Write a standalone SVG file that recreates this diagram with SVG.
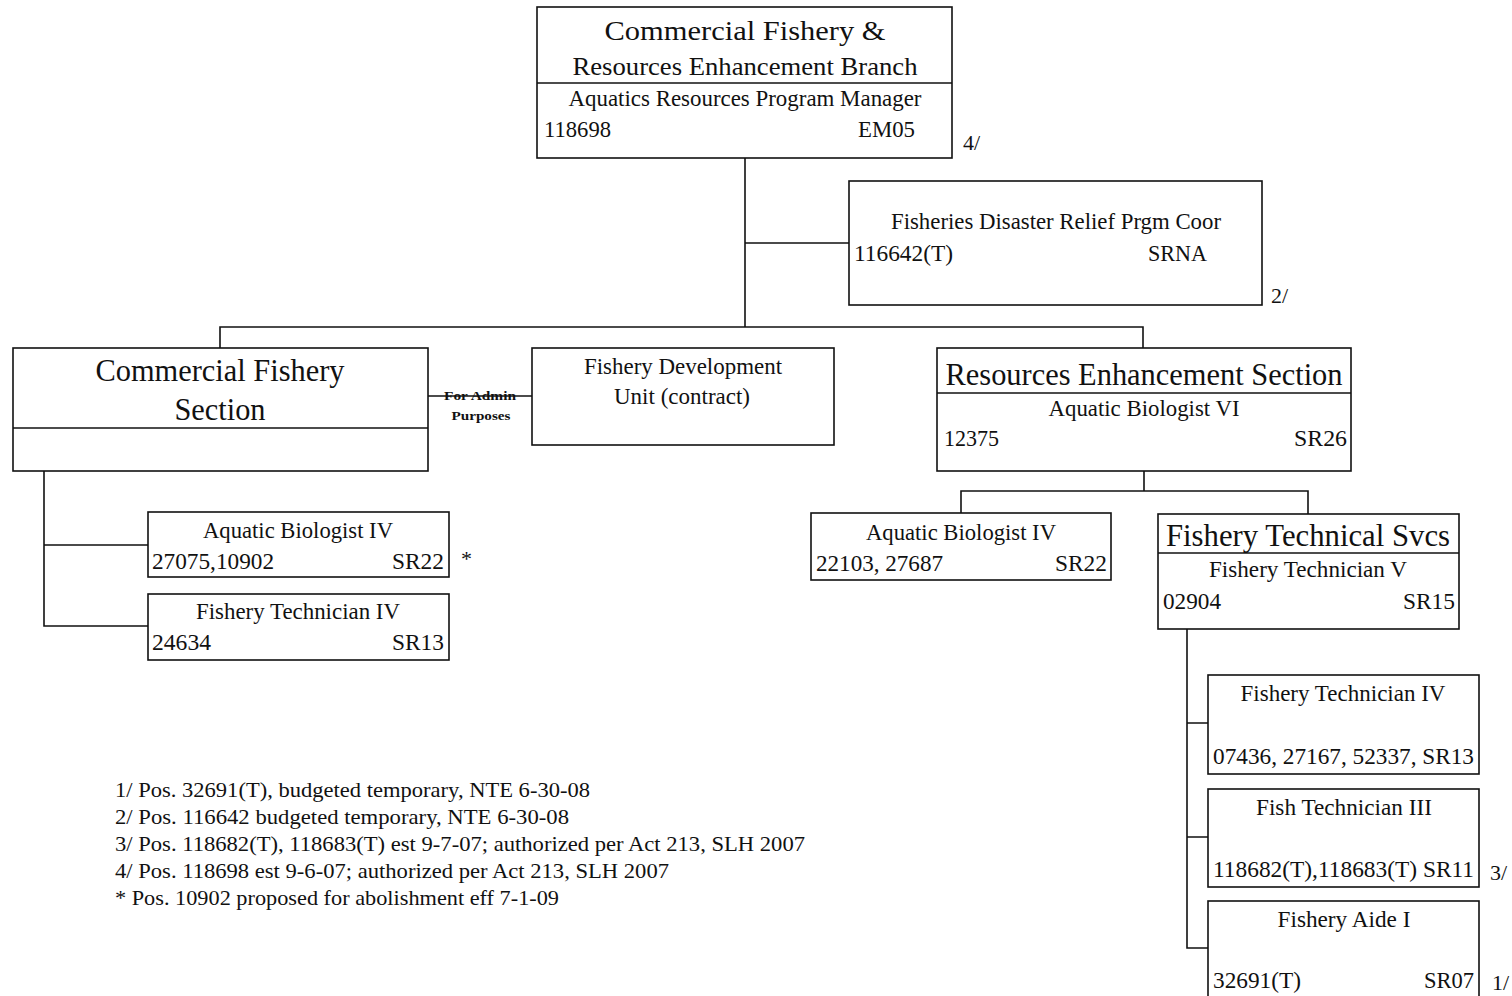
<svg xmlns="http://www.w3.org/2000/svg" width="1512" height="996" viewBox="0 0 1512 996">
<style>
.bx{fill:#fff;stroke:#111;stroke-width:1.6}
.dv{stroke:#111;stroke-width:1.4}
.cn{fill:none;stroke:#111;stroke-width:1.6}
text{font-family:"Liberation Serif","Times New Roman",serif;fill:#111}
.t{font-size:23px}
.h{font-size:31px}
.m{font-size:25px}
.c{text-anchor:middle}
.e{text-anchor:end}
.f{font-size:22px}
.s{font-size:13px;font-weight:bold}
</style>
<rect width="1512" height="996" fill="#fff"/>
<g id="connectors">
<path class="cn" d="M745 158V327M745 243H849M220 348V327H1143V348"/>
<path class="cn" d="M428 396H532"/>
<path class="cn" d="M44 471V626H148M44 545H148"/>
<path class="cn" d="M1144 471V491M961 513V491H1308V514"/>
<path class="cn" d="M1187 629V948H1208M1187 723H1208M1187 837H1208"/>
</g>
<g id="branch">
<rect class="bx" x="537" y="7" width="415" height="151"/>
<line class="dv" x1="537" y1="83" x2="952" y2="83"/>
<text class="h c" x="745" y="40" style="font-size:28px" textLength="281" lengthAdjust="spacingAndGlyphs">Commercial Fishery &amp;</text>
<text class="m c" x="745" y="75" textLength="345" lengthAdjust="spacingAndGlyphs">Resources Enhancement Branch</text>
<text class="t c" x="745" y="106" textLength="353" lengthAdjust="spacingAndGlyphs">Aquatics Resources Program Manager</text>
<text class="t" x="544" y="137" textLength="67" lengthAdjust="spacingAndGlyphs">118698</text>
<text class="t" x="858" y="137" textLength="57" lengthAdjust="spacingAndGlyphs">EM05</text>
<text class="f" x="963" y="150">4/</text>
</g>
<g id="disaster">
<rect class="bx" x="849" y="181" width="413" height="124"/>
<text class="t c" x="1056" y="229" textLength="330" lengthAdjust="spacingAndGlyphs">Fisheries Disaster Relief Prgm Coor</text>
<text class="t" x="854" y="261" textLength="99" lengthAdjust="spacingAndGlyphs">116642(T)</text>
<text class="t" x="1148" y="261" textLength="59" lengthAdjust="spacingAndGlyphs">SRNA</text>
<text class="f" x="1271" y="303">2/</text>
</g>
<g id="commercial-section">
<rect class="bx" x="13" y="348" width="415" height="123"/>
<line class="dv" x1="13" y1="428" x2="428" y2="428"/>
<text class="h c" x="220" y="381" textLength="249" lengthAdjust="spacingAndGlyphs">Commercial Fishery</text>
<text class="h c" x="220" y="420" textLength="91" lengthAdjust="spacingAndGlyphs">Section</text>
</g>
<g id="admin-label">
<text class="s c" x="480" y="400" textLength="72" lengthAdjust="spacingAndGlyphs">For Admin</text>
<text class="s c" x="481" y="420" textLength="59" lengthAdjust="spacingAndGlyphs">Purposes</text>
</g>
<g id="development-unit">
<rect class="bx" x="532" y="348" width="302" height="97"/>
<text class="t c" x="683" y="374" textLength="198" lengthAdjust="spacingAndGlyphs">Fishery Development</text>
<text class="t c" x="682" y="404" textLength="136" lengthAdjust="spacingAndGlyphs">Unit (contract)</text>
</g>
<g id="resources-section">
<rect class="bx" x="937" y="348" width="414" height="123"/>
<line class="dv" x1="937" y1="393" x2="1351" y2="393"/>
<text class="h c" x="1144" y="385" textLength="397" lengthAdjust="spacingAndGlyphs">Resources Enhancement Section</text>
<text class="t c" x="1144" y="416" textLength="191" lengthAdjust="spacingAndGlyphs">Aquatic Biologist VI</text>
<text class="t" x="944" y="446" textLength="55" lengthAdjust="spacingAndGlyphs">12375</text>
<text class="t" x="1294" y="446" textLength="53" lengthAdjust="spacingAndGlyphs">SR26</text>
</g>
<g id="left-biologist">
<rect class="bx" x="148" y="512" width="301" height="65"/>
<text class="t c" x="298" y="538" textLength="190" lengthAdjust="spacingAndGlyphs">Aquatic Biologist IV</text>
<text class="t" x="152" y="569" textLength="122" lengthAdjust="spacingAndGlyphs">27075,10902</text>
<text class="t" x="392" y="569" textLength="52" lengthAdjust="spacingAndGlyphs">SR22</text>
<text class="f" x="461" y="566">*</text>
</g>
<g id="left-technician">
<rect class="bx" x="148" y="594" width="301" height="66"/>
<text class="t c" x="298" y="619" textLength="204" lengthAdjust="spacingAndGlyphs">Fishery Technician IV</text>
<text class="t" x="152" y="650" textLength="59" lengthAdjust="spacingAndGlyphs">24634</text>
<text class="t" x="392" y="650" textLength="52" lengthAdjust="spacingAndGlyphs">SR13</text>
</g>
<g id="right-biologist">
<rect class="bx" x="811" y="513" width="300" height="67"/>
<text class="t c" x="961" y="540" textLength="190" lengthAdjust="spacingAndGlyphs">Aquatic Biologist IV</text>
<text class="t" x="816" y="571" textLength="127" lengthAdjust="spacingAndGlyphs">22103, 27687</text>
<text class="t" x="1055" y="571" textLength="52" lengthAdjust="spacingAndGlyphs">SR22</text>
</g>
<g id="technical-svcs">
<rect class="bx" x="1158" y="514" width="301" height="115"/>
<line class="dv" x1="1158" y1="553" x2="1459" y2="553"/>
<text class="h c" x="1308" y="546" textLength="284" lengthAdjust="spacingAndGlyphs">Fishery Technical Svcs</text>
<text class="t c" x="1308" y="577" textLength="198" lengthAdjust="spacingAndGlyphs">Fishery Technician V</text>
<text class="t" x="1163" y="609" textLength="58" lengthAdjust="spacingAndGlyphs">02904</text>
<text class="t" x="1403" y="609" textLength="52" lengthAdjust="spacingAndGlyphs">SR15</text>
</g>
<g id="tech-iv">
<rect class="bx" x="1208" y="675" width="271" height="99"/>
<text class="t c" x="1343" y="701" textLength="205" lengthAdjust="spacingAndGlyphs">Fishery Technician IV</text>
<text class="t" x="1213" y="764" textLength="261" lengthAdjust="spacingAndGlyphs">07436, 27167, 52337, SR13</text>
</g>
<g id="tech-iii">
<rect class="bx" x="1208" y="789" width="271" height="98"/>
<text class="t c" x="1344" y="815" textLength="176" lengthAdjust="spacingAndGlyphs">Fish Technician III</text>
<text class="t" x="1213" y="877" textLength="261" lengthAdjust="spacingAndGlyphs">118682(T),118683(T) SR11</text>
<text class="f" x="1490" y="880">3/</text>
</g>
<g id="aide-i">
<rect class="bx" x="1208" y="901" width="271" height="105"/>
<text class="t c" x="1344" y="927" textLength="133" lengthAdjust="spacingAndGlyphs">Fishery Aide I</text>
<text class="t" x="1213" y="988" textLength="88" lengthAdjust="spacingAndGlyphs">32691(T)</text>
<text class="t" x="1424" y="988" textLength="50" lengthAdjust="spacingAndGlyphs">SR07</text>
<text class="f" x="1492" y="990">1/</text>
</g>
<g id="footnotes">
<text class="f" x="115" y="797" textLength="475" lengthAdjust="spacingAndGlyphs">1/  Pos. 32691(T), budgeted temporary, NTE 6-30-08</text>
<text class="f" x="115" y="824" textLength="454" lengthAdjust="spacingAndGlyphs">2/  Pos. 116642 budgeted temporary, NTE 6-30-08</text>
<text class="f" x="115" y="851" textLength="690" lengthAdjust="spacingAndGlyphs">3/  Pos. 118682(T), 118683(T) est 9-7-07; authorized per Act 213, SLH 2007</text>
<text class="f" x="115" y="878" textLength="554" lengthAdjust="spacingAndGlyphs">4/  Pos. 118698 est 9-6-07; authorized per Act 213, SLH 2007</text>
<text class="f" x="115" y="905" textLength="444" lengthAdjust="spacingAndGlyphs">*  Pos. 10902 proposed for abolishment eff 7-1-09</text>
</g>
</svg>
